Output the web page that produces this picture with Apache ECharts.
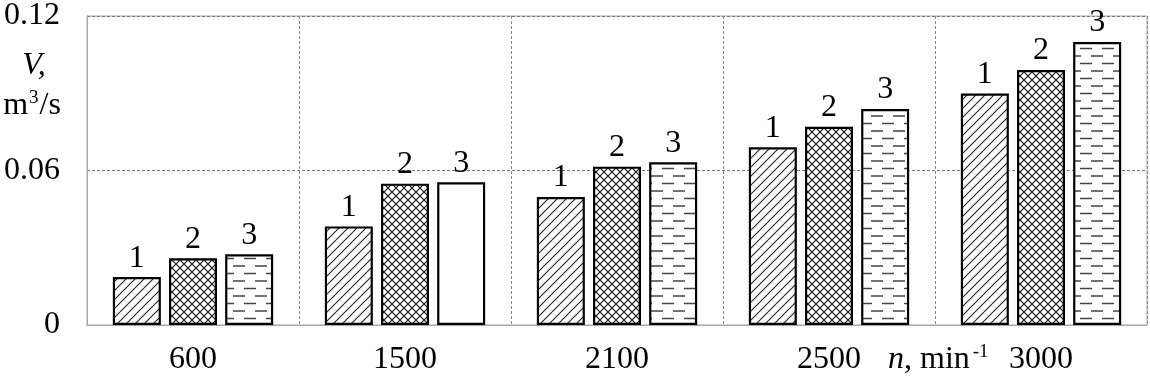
<!DOCTYPE html>
<html>
<head>
<meta charset="utf-8">
<script src="https://cdn.jsdelivr.net/npm/echarts@6/dist/echarts.min.js"></script>
<style>
  html, body { margin: 0; padding: 0; background: #fff; }
  #chart { width: 1150px; height: 379px; }
</style>
</head>
<body>
<div id="chart"></div>
<script>
// data
const categories = ['600', '1500', '2100', '2500', '3000']
const seriesNames = ['1', '2', '3']
const values1 = [0.0186, 0.0383, 0.0497, 0.069, 0.0899]
const values2 = [0.0259, 0.0549, 0.0615, 0.077, 0.099]
const values3 = [0.0275, 0.0554, 0.0632, 0.0839, 0.1099]
const yTicks = [0, 0.06, 0.12]

const FONT = '"Liberation Serif", "Times New Roman", serif'

// hatch fills drawn on small canvases
function makeTile(w, h, draw) {
  const c = document.createElement('canvas')
  c.width = w
  c.height = h
  const ctx = c.getContext('2d')
  ctx.fillStyle = '#fff'
  ctx.fillRect(0, 0, w, h)
  draw(ctx)
  return { image: c, repeat: 'repeat' }
}

const diagonal = makeTile(9, 9, ctx => {
  ctx.strokeStyle = '#222'
  ctx.lineWidth = 1.1
  ctx.beginPath()
  ctx.moveTo(-1, 10); ctx.lineTo(10, -1)
  ctx.moveTo(-5, 5); ctx.lineTo(5, -5)
  ctx.moveTo(4, 14); ctx.lineTo(14, 4)
  ctx.stroke()
})

const cross = makeTile(8, 8, ctx => {
  ctx.strokeStyle = '#1a1a1a'
  ctx.lineWidth = 1.2
  ctx.beginPath()
  ctx.moveTo(-1, 9); ctx.lineTo(9, -1)
  ctx.moveTo(-1, -1); ctx.lineTo(9, 9)
  ctx.stroke()
})

const dashes = makeTile(22, 15, ctx => {
  ctx.strokeStyle = '#444'
  ctx.lineWidth = 1.4
  ctx.beginPath()
  ctx.moveTo(2, 3.5); ctx.lineTo(14, 3.5)
  ctx.moveTo(13, 11); ctx.lineTo(25, 11)
  ctx.moveTo(-9, 11); ctx.lineTo(3, 11)
  ctx.stroke()
})

const fills = [diagonal, cross, dashes]
const allValues = [values1, values2, values3]

const chart = echarts.init(document.getElementById('chart'))

chart.setOption({
  animation: false,
  grid: {
    left: 87, right: 3, top: 15, bottom: 54,
    show: true,
    borderColor: '#a6a6a6',
    borderWidth: 1,
  },
  xAxis: {
    type: 'category',
    data: categories,
    axisLine: { lineStyle: { color: '#a6a6a6', width: 1 } },
    axisTick: { show: false },
    axisLabel: { color: '#000', fontFamily: FONT, fontSize: 32, margin: 19 },
    splitLine: {
      show: true,
      lineStyle: { color: '#888', type: [3, 2], width: 1 },
    },
  },
  yAxis: {
    type: 'value',
    min: yTicks[0],
    max: yTicks[yTicks.length - 1],
    interval: yTicks[1] - yTicks[0],
    axisLine: { show: true, lineStyle: { color: '#a6a6a6', width: 1 } },
    axisTick: { show: false },
    axisLabel: { color: '#000', fontFamily: FONT, fontSize: 32, margin: 27 },
    splitLine: {
      show: true,
      lineStyle: { color: '#777', type: [3, 2], width: 1 },
    },
  },
  series: seriesNames.map((name, si) => ({
    name,
    type: 'bar',
    barWidth: 48,
    barGap: '17%',
    data: allValues[si].map((v, ci) =>
      // 1500 / series 3 is left unfilled in the original
      ci === 1 && si === 2 ? { value: v, itemStyle: { color: '#fff' } } : v
    ),
    itemStyle: {
      color: fills[si],
      borderColor: '#000',
      borderWidth: 2.2,
    },
    label: {
      show: true,
      position: 'top',
      distance: 3,
      formatter: name,
      color: '#000',
      fontFamily: FONT,
      fontSize: 32,
    },
  })),
  graphic: [
    {
      type: 'text',
      x: 34, y: 66,
      style: {
        text: 'V,',
        font: 'italic 32px ' + FONT,
        fill: '#000',
        align: 'center',
        verticalAlign: 'middle',
      },
    },
    {
      type: 'text',
      x: 32, y: 106,
      style: {
        text: '{a|m}{s|3}{a|/s}',
        fill: '#000',
        align: 'center',
        verticalAlign: 'middle',
        rich: {
          a: { fontFamily: FONT, fontSize: 32, lineHeight: 32 },
          s: { fontFamily: FONT, fontSize: 19, padding: [0, 1, 16, 1] },
        },
      },
    },
    {
      type: 'text',
      x: 888, y: 360,
      style: {
        text: '{i|n}{a|, min}{s|-1}',
        fill: '#000',
        align: 'left',
        verticalAlign: 'middle',
        rich: {
          i: { fontFamily: FONT, fontStyle: 'italic', fontSize: 32, lineHeight: 32 },
          a: { fontFamily: FONT, fontSize: 32, lineHeight: 32 },
          s: { fontFamily: FONT, fontSize: 19, padding: [0, 0, 16, 3] },
        },
      },
    },
  ],
})
</script>
</body>
</html>
